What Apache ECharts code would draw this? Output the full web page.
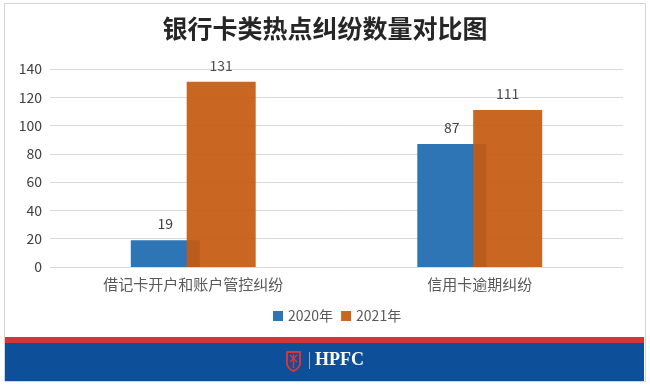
<!DOCTYPE html>
<html>
<head>
<meta charset="utf-8">
<script src="https://cdn.jsdelivr.net/npm/echarts@6/dist/echarts.min.js"></script>
<style>html,body{margin:0;padding:0;background:#fff;}#c{width:650px;height:387px;}</style>
</head>
<body>
<div id="c"></div>
<script>
const categories = ['借记卡开户和账户管控纠纷', '信用卡逾期纠纷'];
const seriesNames = ['2020年', '2021年'];
const values2020 = [19, 87];
const values2021 = [131, 111];
const yTicks = [0, 20, 40, 60, 80, 100, 120, 140];

const chart = echarts.init(document.getElementById('c'), null, {renderer: 'canvas'});
const font = '"Noto Sans CJK SC", "Noto Sans", sans-serif';
chart.setOption({
  animation: false,
  backgroundColor: '#ffffff',
  title: {
    text: '银行卡类热点纠纷数量对比图',
    left: 'center', top: 11,
    textStyle: {fontFamily: font, fontSize: 25, fontWeight: 'bold', color: '#262626'}
  },
  legend: {
    data: seriesNames,
    top: 304, left: 268,
    itemWidth: 10, itemHeight: 10, itemGap: 8,
    icon: 'rect',
    textStyle: {fontFamily: font, fontSize: 14, color: '#595959'}
  },
  grid: {left: 50, right: 27, top: 69, bottom: 120, containLabel: false},
  xAxis: {
    type: 'category', data: categories,
    axisLine: {show: false}, axisTick: {show: false},
    axisLabel: {fontFamily: font, fontSize: 15, color: '#595959', margin: 10}
  },
  yAxis: {
    type: 'value', min: yTicks[0], max: yTicks[yTicks.length-1], interval: 20,
    axisLine: {show: false}, axisTick: {show: false},
    axisLabel: {fontFamily: font, fontSize: 14, color: '#404040', margin: 8},
    splitLine: {lineStyle: {color: '#d9d9d9', width: 1}}
  },
  series: [
    {
      name: seriesNames[0], type: 'bar', data: values2020,
      barWidth: 69, barGap: '-19%',
      itemStyle: {color: '#2e75b6'},
      label: {show: true, position: 'top', distance: 9, fontFamily: font, fontSize: 14, color: '#404040'}
    },
    {
      name: seriesNames[1], type: 'bar', data: values2021,
      barWidth: 69,
      itemStyle: {color: '#c55a11', opacity: 0.93},
      label: {show: true, position: 'top', distance: 9, fontFamily: font, fontSize: 14, color: '#404040'}
    }
  ],
  graphic: [
    {type: 'rect', shape: {x: 4.5, y: 3.5, width: 641, height: 378}, style: {fill: 'none', stroke: '#d4d4d4', lineWidth: 1}, z: -1},
    {type: 'rect', shape: {x: 5, y: 337, width: 639, height: 6}, style: {fill: '#d33636'}},
    {type: 'rect', shape: {x: 5, y: 343, width: 639, height: 38}, style: {fill: '#0d4f98'}},
    {type: 'polygon', shape: {points: [[287,352],[300,352],[300,365],[297,369],[293.5,371],[290,369],[287,365]]}, style: {fill: 'none', stroke: '#d8343a', lineWidth: 2}},
    {type: 'polyline', shape: {points: [[290,355],[297,362]]}, style: {stroke: '#d8343a', lineWidth: 1.5}},
    {type: 'polyline', shape: {points: [[297,355],[290,362]]}, style: {stroke: '#d8343a', lineWidth: 1.5}},
    {type: 'polyline', shape: {points: [[293.5,354],[293.5,368]]}, style: {stroke: '#d8343a', lineWidth: 1.5}},
    {type: 'polyline', shape: {points: [[309.5,352],[309.5,369]]}, style: {stroke: '#9aa8c8', lineWidth: 1}},
    {type: 'text', x: 315, y: 360, style: {text: 'HPFC', verticalAlign: 'middle', fill: '#ffffff', font: 'bold 18px "Liberation Serif", "DejaVu Serif", serif'}}
  ]
});
</script>
</body>
</html>
